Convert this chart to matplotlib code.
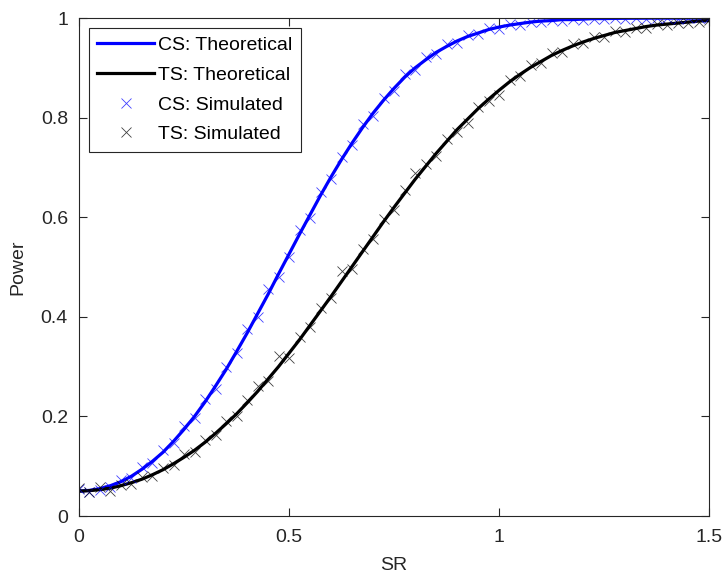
import numpy as np
import matplotlib
matplotlib.use("Agg")
import matplotlib.pyplot as plt

plt.rcParams['font.family'] = ['Liberation Sans', 'DejaVu Sans']

# SR grid (0 to 1.5, step 0.025)
sr = np.linspace(0, 1.5, 61)

cs_theory = [0.050, 0.0515, 0.055, 0.061, 0.069, 0.080, 0.094, 0.110, 0.128, 0.150,
             0.174, 0.200, 0.229, 0.261, 0.294, 0.330, 0.367, 0.406, 0.445, 0.486,
             0.526, 0.566, 0.605, 0.644, 0.681, 0.716, 0.749, 0.780, 0.809, 0.835,
             0.859, 0.881, 0.900, 0.916, 0.931, 0.943, 0.954, 0.963, 0.970, 0.977,
             0.982, 0.986, 0.989, 0.992, 0.994, 0.995, 0.997, 0.997, 0.998, 0.999,
             0.999, 0.9994, 0.9996, 0.9997, 0.9998, 0.9999, 0.9999, 0.9999, 1.0, 1.0,
             1.0]
ts_theory = [0.050, 0.051, 0.053, 0.056, 0.061, 0.067, 0.074, 0.083, 0.093, 0.105,
             0.118, 0.132, 0.148, 0.166, 0.185, 0.205, 0.227, 0.250, 0.275, 0.300,
             0.327, 0.354, 0.383, 0.412, 0.441, 0.471, 0.501, 0.531, 0.561, 0.591,
             0.620, 0.648, 0.676, 0.702, 0.728, 0.752, 0.776, 0.797, 0.818, 0.837,
             0.855, 0.872, 0.887, 0.901, 0.913, 0.925, 0.935, 0.944, 0.952, 0.959,
             0.965, 0.971, 0.975, 0.979, 0.983, 0.986, 0.988, 0.990, 0.992, 0.994,
             0.995]

cs_sim = [0.054, 0.049, 0.052, 0.058, 0.072, 0.077, 0.098, 0.107, 0.133, 0.146,
          0.180, 0.196, 0.236, 0.255, 0.300, 0.327, 0.375, 0.400, 0.455, 0.480,
          0.520, 0.575, 0.598, 0.650, 0.676, 0.722, 0.745, 0.788, 0.803, 0.840,
          0.853, 0.887, 0.895, 0.922, 0.927, 0.947, 0.951, 0.966, 0.968, 0.980,
          0.979, 0.988, 0.987, 0.993, 0.992, 0.996, 0.995, 0.998, 0.997, 0.999,
          0.998, 1.0, 0.999, 1.0, 0.999, 1.0, 1.0, 0.999, 1.0, 1.0,
          1.0]
ts_sim = [0.056, 0.049, 0.058, 0.051, 0.063, 0.064, 0.078, 0.080, 0.096, 0.102,
          0.124, 0.128, 0.152, 0.163, 0.190, 0.201, 0.233, 0.262, 0.271, 0.322,
          0.318, 0.360, 0.380, 0.417, 0.437, 0.492, 0.497, 0.536, 0.557, 0.596,
          0.615, 0.655, 0.688, 0.706, 0.723, 0.758, 0.771, 0.790, 0.822, 0.833,
          0.845, 0.876, 0.883, 0.905, 0.909, 0.929, 0.932, 0.947, 0.949, 0.962,
          0.962, 0.974, 0.973, 0.981, 0.981, 0.988, 0.986, 0.991, 0.990, 0.993,
          0.996]

fig = plt.figure(figsize=(7.28, 5.84), dpi=100)
ax = fig.add_axes([0.1085, 0.1164, 0.8655, 0.8526])

ax.plot(sr, cs_theory, color='#0000ff', lw=2.3, label='CS: Theoretical')
ax.plot(sr, ts_theory, color='black', lw=2.3, label='TS: Theoretical')
ax.plot(sr, cs_sim, 'x', color='#0000ff', ms=7, mew=0.6, alpha=0.75, label='CS: Simulated')
ax.plot(sr, ts_sim, 'x', color='black', ms=7, mew=0.6, alpha=0.75, label='TS: Simulated')

ax.set_xlim(0, 1.5)
ax.set_ylim(0, 1)
ax.set_xticks([0, 0.5, 1, 1.5])
ax.set_xticklabels(['0', '0.5', '1', '1.5'])
ax.set_yticks([0, 0.2, 0.4, 0.6, 0.8, 1])
ax.set_yticklabels(['0', '0.2', '0.4', '0.6', '0.8', '1'])

axis_col = '#262626'
for s in ax.spines.values():
    s.set_color(axis_col)
    s.set_linewidth(0.8)
ax.tick_params(direction='in', top=True, right=True, length=6, width=0.8,
               color=axis_col, labelcolor=axis_col, labelsize=14)
ax.tick_params(axis='x', pad=9)
ax.tick_params(axis='y', pad=8)

ax.set_xlabel('SR', fontsize=14, color=axis_col, labelpad=8)
ax.set_ylabel('Power', fontsize=14, color=axis_col, labelpad=10)

leg = ax.legend(loc='upper left', fontsize=14, fancybox=False, framealpha=1,
                edgecolor=axis_col, handlelength=2.9, borderpad=0.45,
                labelspacing=0.62, handletextpad=0.2, borderaxespad=0.5)
leg.get_frame().set_linewidth(0.8)

fig.savefig('out.png', dpi=100)
